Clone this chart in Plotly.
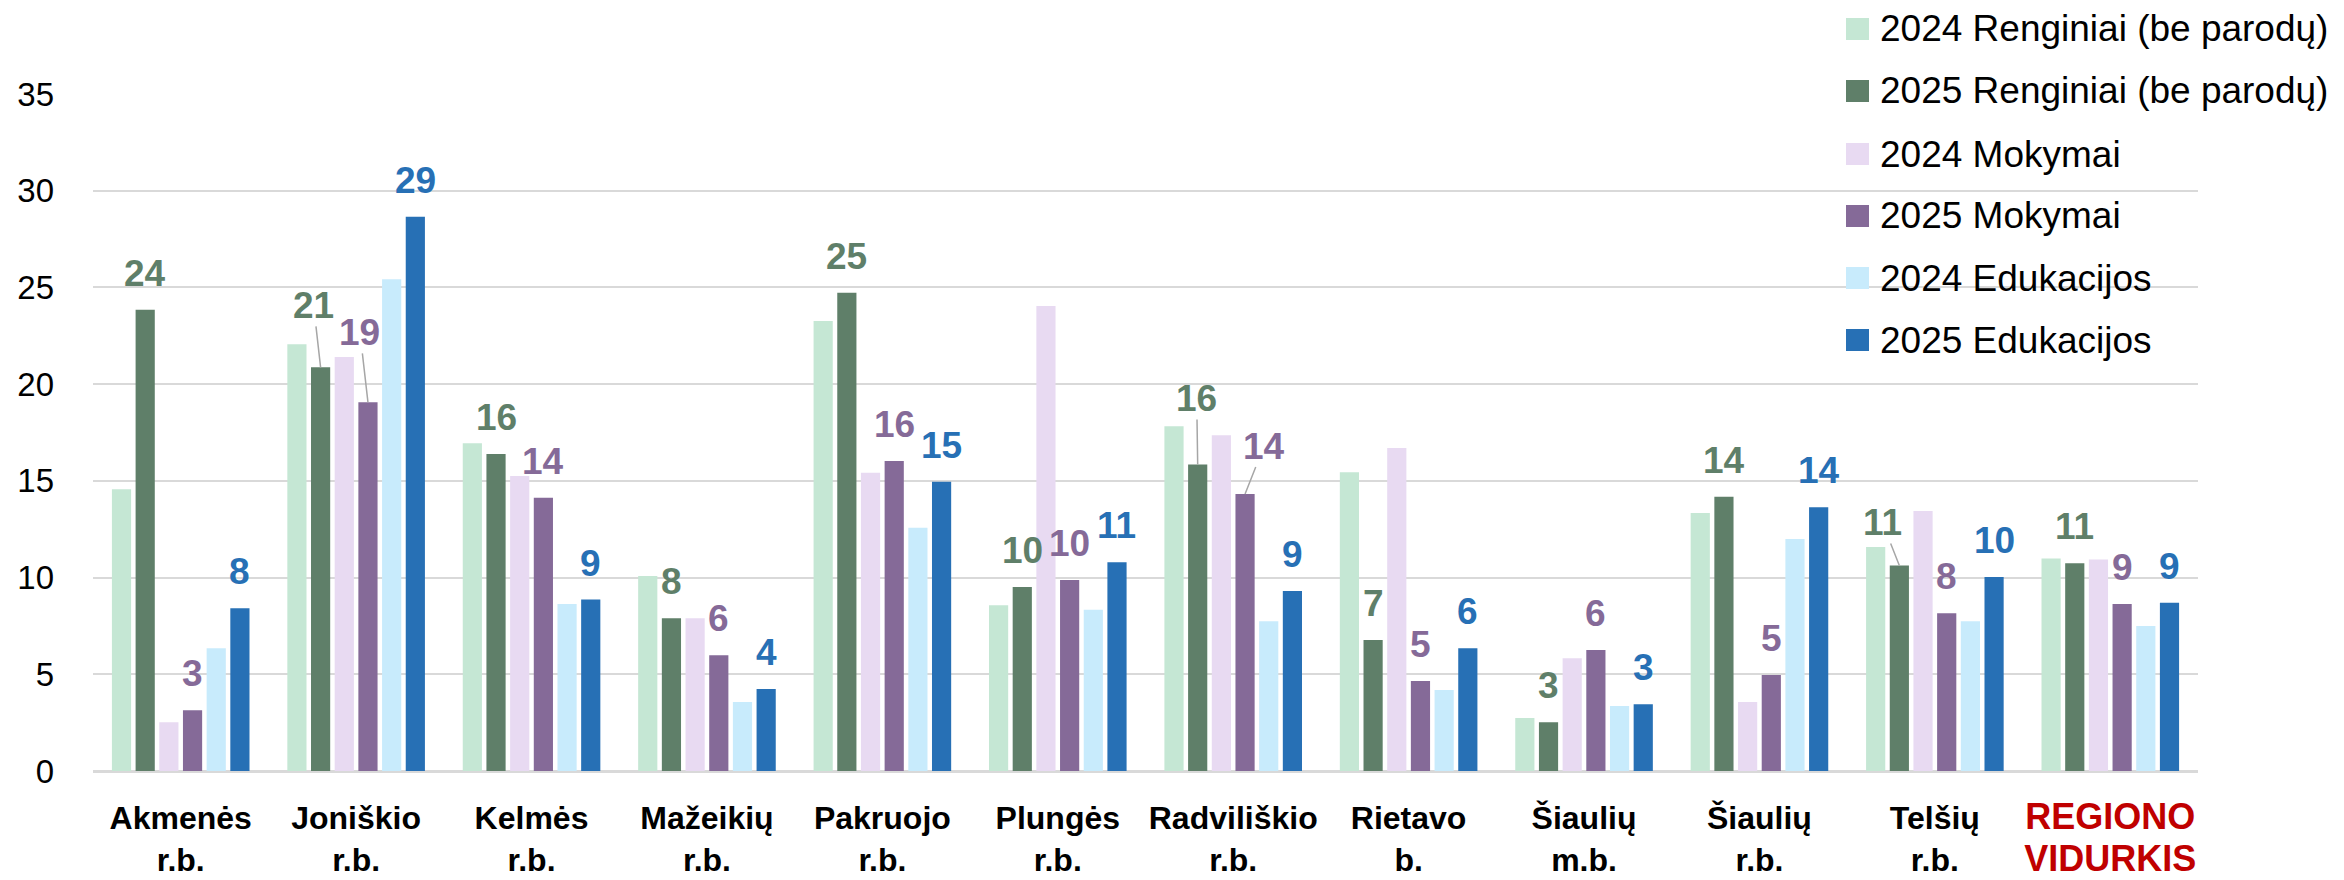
import plotly.graph_objects as go

categories = ["Akmenės<br>r.b.", "Joniškio<br>r.b.", "Kelmės<br>r.b.", "Mažeikių<br>r.b.",
              "Pakruojo<br>r.b.", "Plungės<br>r.b.", "Radviliškio<br>r.b.", "Rietavo<br>b.",
              "Šiaulių<br>m.b.", "Šiaulių<br>r.b.", "Telšių<br>r.b.",
              "<span style='color:#C00000;font-size:36px'>REGIONO<br>VIDURKIS</span>"]

series_names = ["2024 Renginiai (be parodų)", "2025 Renginiai (be parodų)", "2024 Mokymai",
                "2025 Mokymai", "2024 Edukacijos", "2025 Edukacijos"]
series_colors = ["#C5E7D4", "#5F7F69", "#E8DAF2", "#856A98", "#C8EBFC", "#2770B5"]

renginiai_2024 = [14.57, 22.06, 16.94, 10.08, 23.27, 8.57, 17.82, 15.44, 2.74, 13.34, 11.58, 10.98]
renginiai_2025 = [23.84, 20.87, 16.39, 7.90, 24.72, 9.51, 15.84, 6.77, 2.52, 14.18, 10.62, 10.74]
mokymai_2024 = [2.52, 21.40, 15.25, 7.90, 15.42, 24.04, 17.36, 16.70, 5.83, 3.57, 13.44, 10.94]
mokymai_2025 = [3.14, 19.06, 14.13, 5.98, 16.03, 9.88, 14.32, 4.65, 6.26, 4.96, 8.15, 8.63]
edukacijos_2024 = [6.34, 25.42, 8.63, 3.57, 12.58, 8.34, 7.74, 4.19, 3.36, 12.00, 7.74, 7.50]
edukacijos_2025 = [8.41, 28.66, 8.86, 4.24, 14.96, 10.79, 9.31, 6.34, 3.45, 13.63, 10.03, 8.70]

y_ticks = [0, 5, 10, 15, 20, 25, 30, 35]

all_series = [renginiai_2024, renginiai_2025, mokymai_2024, mokymai_2025, edukacijos_2024, edukacijos_2025]
labelled = [1, 3, 5]  # 2025 series carry value labels

# label placements with leader lines: (category index, series index) -> (ax, ay) pixel offsets
leader = {(1, 1): (-7, -62), (1, 3): (-8, -70), (6, 1): (-1, -66), (6, 3): (19, -48), (10, 1): (-17, -43)}

FONT = "Liberation Sans, Arial, sans-serif"
W, H = 2344, 880
ML, MR, MT, MB = 93, 146, 94, 109
BARGAP = 0.19
n = len(all_series)
slot = (1 - BARGAP) / n

xs = list(range(len(categories)))
fig = go.Figure()
for name, color, vals in zip(series_names, series_colors, all_series):
    fig.add_trace(go.Bar(x=xs, y=vals, name=name, marker=dict(color=color, line=dict(width=0)),
                         showlegend=False, hoverinfo="y+name"))

annotations = []
for k in labelled:
    vals = all_series[k]
    for i, v in enumerate(vals):
        xpos = i + (k - (n - 1) / 2) * slot
        txt = str(int(v + 0.5))
        lab_font = dict(family=FONT, size=37, color=series_colors[k], weight="bold")
        if (i, k) in leader:
            ax, ay = leader[(i, k)]
            annotations.append(dict(x=xpos, y=v, xref="x", yref="y", text=txt, showarrow=True,
                                    ax=ax, ay=ay, arrowhead=0, arrowwidth=1.5, arrowcolor="#A6A6A6",
                                    standoff=0, borderpad=0, font=lab_font))
        else:
            annotations.append(dict(x=xpos, y=v, xref="x", yref="y", text=txt, showarrow=False,
                                    yanchor="bottom", yshift=14, font=lab_font))

# manual legend (large square swatches)
plot_w = W - ML - MR
plot_h = H - MT - MB
leg_y = [29, 91, 154, 216, 278, 340]
shapes = []
for name, color, yc in zip(series_names, series_colors, leg_y):
    x0 = (1846 - ML) / plot_w
    x1 = (1869 - ML) / plot_w
    y0 = (H - MB - (yc + 11)) / plot_h
    y1 = (H - MB - (yc - 11)) / plot_h
    shapes.append(dict(type="rect", xref="paper", yref="paper", x0=x0, x1=x1, y0=y0, y1=y1,
                       fillcolor=color, line=dict(width=0), layer="above"))
    annotations.append(dict(x=(1878 - ML) / plot_w, y=(H - MB - yc) / plot_h, xref="paper", yref="paper",
                            text=name, showarrow=False, xanchor="left", yanchor="middle",
                            font=dict(family=FONT, size=37, color="#000000")))

fig.update_layout(
    width=W, height=H, autosize=False,
    margin=dict(l=ML, r=MR, t=MT, b=MB, pad=0, autoexpand=False),
    paper_bgcolor="white", plot_bgcolor="white",
    barmode="group", bargap=BARGAP, bargroupgap=0.19,
    font=dict(family=FONT, color="#000000"),
    showlegend=False,
    annotations=annotations, shapes=shapes,
    xaxis=dict(range=[-0.5, len(categories) - 0.5], tickvals=xs, ticktext=categories,
               tickfont=dict(family=FONT, size=32, color="#000000", weight="bold"),
               showgrid=False, zeroline=False, showline=False, ticks="", ticklabelstandoff=25,
               automargin=False),
    yaxis=dict(range=[0, 35], tickvals=y_ticks, showgrid=True, gridcolor="#D9D9D9", gridwidth=2,
               zeroline=True, zerolinecolor="#D9D9D9", zerolinewidth=3, showline=False, ticks="",
               tickfont=dict(family=FONT, size=33, color="#000000"), ticklabelstandoff=38,
               automargin=False),
)

fig.write_html("out.html", config={"displayModeBar": False},
               post_script="document.body.style.margin='0';document.body.style.overflow='hidden';")
